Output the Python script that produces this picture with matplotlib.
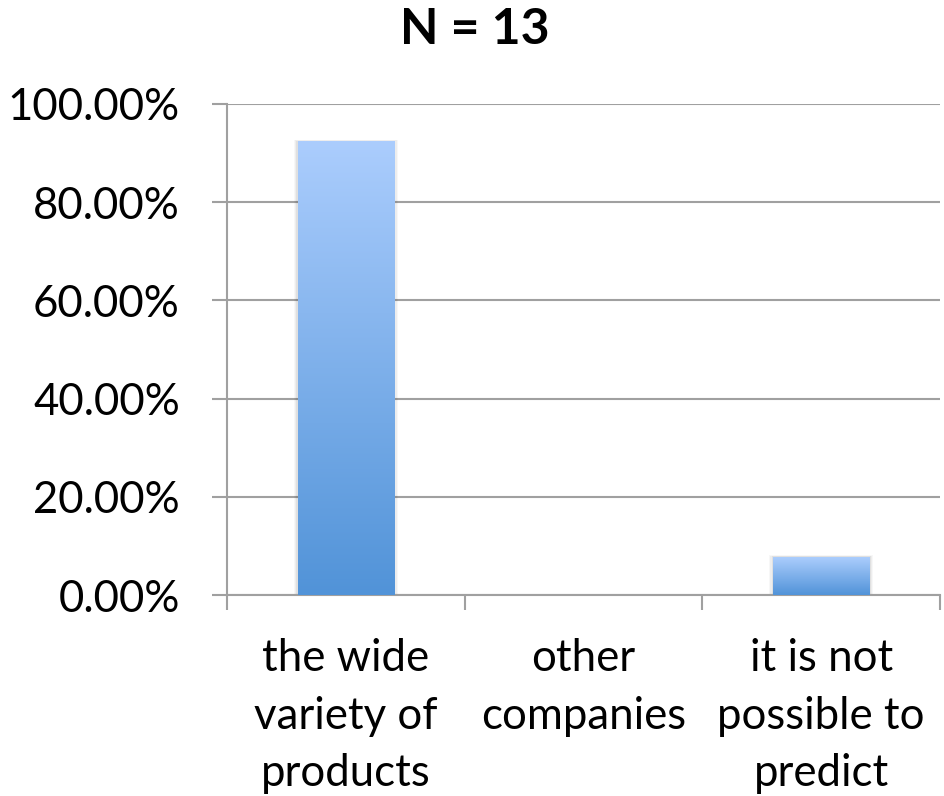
import numpy as np
import matplotlib
matplotlib.use('Agg')
import matplotlib.pyplot as plt
from matplotlib.colors import LinearSegmentedColormap

# answers out of N = 13 respondents
categories = ['the wide\nvariety of\nproducts', 'other\ncompanies', 'it is not\npossible to\npredict']
counts = [12, 0, 1]
n_total = 13
shares = [c / n_total * 100 for c in counts]
yticks = [0, 20, 40, 60, 80, 100]

plt.rcParams['font.family'] = ['Lato', 'DejaVu Sans']
line_col = '#a0a0a0'

fig = plt.figure(figsize=(9.44, 7.96), dpi=100)
ax = fig.add_axes([227 / 944, 1 - 595 / 796, (940 - 227) / 944, (595 - 104) / 796])

x = np.arange(len(categories))
bars = ax.bar(x, shares, width=0.404, color='none', edgecolor='none', zorder=3)

# vertical gradient for each bar, light on top, darker at the base
cmap = LinearSegmentedColormap.from_list('blues', ['#5193d8', '#abcdfd'])
grad = np.linspace(0, 1, 256).reshape(-1, 1)
for b in bars:
    h = b.get_height()
    if h <= 0:
        continue
    x0 = b.get_x()
    w = b.get_width()
    # soft shadow
    for i, a in enumerate([0.05, 0.04, 0.03]):
        d = 0.006 * (i + 1)
        ax.add_patch(plt.Rectangle((x0 - d, 0), w + 2 * d, h + d * 25,
                                   color='black', alpha=a, lw=0, zorder=2))
    ax.imshow(grad, cmap=cmap, origin='lower', aspect='auto',
              extent=(x0, x0 + w, 0, h), zorder=3)

ax.set_xlim(-0.5, len(categories) - 0.5)
ax.set_ylim(0, 100)

ax.set_yticks(yticks)
ax.set_yticklabels(['%.2f%%' % v for v in yticks], fontsize=31.5)
ax.yaxis.grid(True, color=line_col, linewidth=1.5, zorder=1)
ax.set_axisbelow(True)

ax.set_xticks(x)
ax.set_xticklabels(categories, fontsize=31.5, linespacing=1.5, va='top')
ax.tick_params(axis='x', length=0, pad=31)
ax.set_xticks(np.arange(-0.5, len(categories)), minor=True)
ax.tick_params(axis='x', which='minor', length=11, width=1.5, color=line_col)
ax.tick_params(axis='y', length=11, width=1.5, color=line_col, pad=23)

for side in ['top', 'right']:
    ax.spines[side].set_visible(False)
for side in ['left', 'bottom']:
    ax.spines[side].set_color(line_col)
    ax.spines[side].set_linewidth(1.5)

fig.text(0.503, 1 - 30 / 796, 'N = %d' % n_total, ha='center', va='center',
         fontsize=36, fontweight='bold')

fig.savefig('out.png', dpi=100)
